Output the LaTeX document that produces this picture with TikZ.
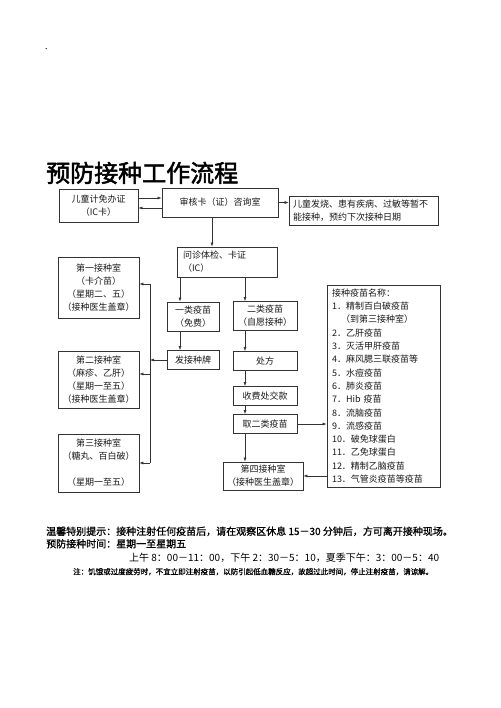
\documentclass[tikz,border=0pt]{standalone}
\usepackage{fontspec}
\newfontfamily\cjk{Noto Sans CJK SC}
\newfontfamily\cjkheavy[FakeBold=2]{Noto Sans CJK SC}
\newfontfamily\cjkbold[FakeBold=1]{Noto Sans CJK SC}
\usetikzlibrary{arrows.meta}
\tikzset{
	box/.style = {
		draw=black!80,
		line width=0.7pt,
		inner sep=0pt,
		align=center,
		text=black!90,
		font=\cjk\fontsize{9}{13}\selectfont
	},
	box_l/.style = {
		box,
		align=left,
		inner xsep=5pt
	},
	heading/.style = {
		font=\cjkheavy\fontsize{24}{26}\selectfont,
		inner sep=0pt,
		anchor=base west
	},
	tip/.style = {
		font=\cjk\fontsize{10}{12}\selectfont,
		inner sep=0pt,
		anchor=base west
	},
	tip_bold/.style = {
		tip,
		font=\cjkbold\fontsize{10}{12}\selectfont
	},
	tip_small/.style = {
		tip,
		font=\cjkbold\fontsize{7.5}{9}\selectfont
	},
	link/.style = {
		->,
		draw=black!80,
		line width=0.6pt
	}
}
\begin{document}
\begin{tikzpicture}[x=1pt, y=-1pt, >={Latex[length=4pt,width=3pt]}]
\useasboundingbox (0,0) rectangle (500,708);
\node [tip_small] (dot) at (45,49) {.};
\node [heading] (title) at (46,182) {预防接种工作流程};

\node [box, minimum width=79, minimum height=33] (card) at (98.5,205.5) {儿童计免办证\\（IC卡）};
\node [box, minimum width=116, minimum height=29] (check) at (220,202.5) {审核卡（证）咨询室};
\node [box_l, minimum width=149, minimum height=29, text width=141, inner xsep=4] (delay) at (363.5,210.5) {儿童发烧、患有疾病、过敏等暂不\\能接种，预约下次接种日期};
\node [box_l, minimum width=100, minimum height=30, text width=88, inner xsep=6] (exam) at (227,262) {问诊体检、卡证\\（IC）};

\node [box, minimum width=52, minimum height=29] (free) at (193,316.5) {一类疫苗\\（免费）};
\node [box, minimum width=64, minimum height=29] (paid) at (265,316) {二类疫苗\\（自愿接种）};
\node [box, minimum width=52, minimum height=19] (token) at (193,360) {发接种牌};
\node [box, minimum width=64, minimum height=19] (recipe) at (265,361) {处方};
\node [box, minimum width=64, minimum height=19] (cashier) at (265,396) {收费处交款};
\node [box, minimum width=64, minimum height=19] (fetch) at (265,424) {取二类疫苗};
\node [box, minimum width=80, minimum height=28] (room4) at (263,476) {第四接种室\\（接种医生盖章）};

\node [box, minimum width=81, minimum height=61] (room1) at (98.5,287.5) {第一接种室\\（卡介苗）\\（星期二、五）\\（接种医生盖章）};
\node [box, minimum width=81, minimum height=57] (room2) at (98.5,379.5) {第二接种室\\（麻疹、乙肝）\\（星期一至五）\\（接种医生盖章）};
\node [box, minimum width=81, minimum height=58] (room3) at (98.5,463) {第三接种室\\（糖丸、百白破）\\ \\（星期一至五）};

\node [box_l, minimum width=113, minimum height=202, text width=103, font=\cjk\fontsize{9}{13.3}\selectfont] (list) at (383.5,386) {接种疫苗名称：\\1．精制百白破疫苗\\\hspace*{1em}（到第三接种室）\\2．乙肝疫苗\\3．灭活甲肝疫苗\\4．麻风腮三联疫苗等\\5．水痘疫苗\\6．肺炎疫苗\\7．Hib 疫苗\\8．流脑疫苗\\9．流感疫苗\\10．破免球蛋白\\11．乙免球蛋白\\12．精制乙脑疫苗\\13．气管炎疫苗等疫苗};

\coordinate (bus1) at (150,284);
\coordinate (bus3) at (150,463);

\draw [link] ([yshift=7.5]card.east) -- ([yshift=7.5]card.east -| check.west);
\draw [link] ([yshift=-2.5]card.east -| check.west) -- ([yshift=-2.5]card.east);
\draw [link] (check.east) -- (check.east -| delay.west);
\draw [link] ([xshift=-8]check.south) -- ([xshift=-8]check.south |- exam.north);
\draw [link] ([xshift=-13]free.north |- exam.south) -- ([xshift=-13]free.north);
\draw [link] ([xshift=-20]paid.north |- exam.south) -- ([xshift=-20]paid.north);
\draw [link] ([xshift=-13]free.south) -- ([xshift=-13]token.north);
\draw [link] ([xshift=-20]paid.south) -- ([xshift=-20]recipe.north);
\draw [link] ([xshift=-20]recipe.south) -- ([xshift=-20]cashier.north);
\draw [link] ([xshift=-20]cashier.south) -- ([xshift=-20]fetch.north);
\draw [link] ([xshift=-20]fetch.south) -- ([xshift=-20]fetch.south |- room4.north);
\draw [link] (fetch.east) -- (fetch.east -| list.west);
\draw [link] (list.west |- room4.east) -- (room4.east);
\draw [link] (token.west) -- (token.west -| bus1);
\draw [draw=black!80, line width=0.6pt] (bus1) -- (bus3);
\draw [link] (bus1) -- (bus1 -| room1.east);
\draw [link] ([yshift=5.5]room2.east -| bus1) -- ([yshift=5.5]room2.east);
\draw [link] (bus3) -- (bus3 -| room3.east);

\node [tip_bold] (warn) at (46,535) {温馨特别提示：接种注射任何疫苗后，请在观察区休息 15－30 分钟后，方可离开接种现场。};
\node [tip_bold] (hours) at (46,547.5) {预防接种时间：星期一至星期五};
\node [tip] (times) at (129,561) {上午 8：00－11：00，下午 2：30－5：10，夏季下午：3：00－5：40};
\node [tip_small] (remark) at (73,574.5) {注：饥饿或过度疲劳时，不宜立即注射疫苗，以防引起低血糖反应，故超过此时间，停止注射疫苗，请谅解。};
\end{tikzpicture}
\end{document}
